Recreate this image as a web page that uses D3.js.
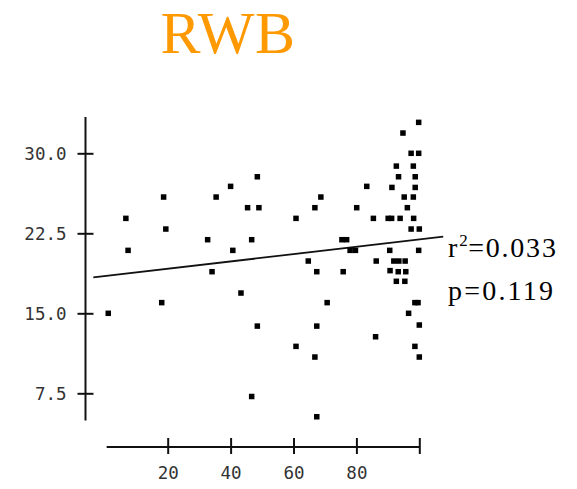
<!DOCTYPE html>
<html>
<head>
<meta charset="utf-8">
<script src="https://cdn.jsdelivr.net/npm/d3@7"></script>
<style>
  html, body { margin: 0; padding: 0; background: #fff; }
  svg { display: block; }
</style>
</head>
<body>
<svg id="chart" width="577" height="489"></svg>
<script>
// Sample measurements: x and y for each plotted site
const xValues = [
  1.1, 6.7, 7.4, 18.1, 18.7, 19.4, 32.7, 34.1, 35.4, 40.0,
  40.7, 43.3, 45.4, 46.7, 46.7, 48.5, 49.0, 48.5, 60.8, 60.8,
  64.7, 66.8, 66.8, 67.4, 67.4, 67.4, 68.7, 70.7, 75.4, 76.9,
  75.8, 78.0, 79.7, 80.1, 83.3, 85.4, 86.3, 86.1, 90.1, 91.2,
  91.3, 90.6, 90.7, 91.9, 93.5, 95.5, 92.7, 93.4, 93.3, 95.7,
  92.7, 95.4, 93.9, 94.8, 95.2, 96.2, 96.6, 97.4, 97.4, 98.1,
  98.7, 98.7, 98.1, 98.2, 98.6, 99.6, 98.6, 99.8, 99.8, 100.0,
  99.8, 100.0, 100.0
];
const yValues = [
  15.0, 23.9, 20.9, 16.0, 25.9, 22.9, 21.9, 18.9, 25.9, 26.9,
  20.9, 16.9, 24.9, 21.9, 7.2, 27.8, 24.9, 13.8, 23.9, 11.9,
  19.9, 24.9, 10.9, 18.9, 13.8, 5.3, 25.9, 16.0, 21.9, 21.9,
  18.9, 20.9, 20.9, 24.9, 26.9, 23.9, 19.9, 12.8, 23.9, 23.9,
  26.8, 20.9, 19.0, 19.9, 19.9, 19.9, 28.8, 27.8, 18.9, 18.9,
  18.0, 18.0, 23.9, 31.9, 25.9, 24.9, 15.0, 30.0, 22.9, 28.8,
  27.8, 26.8, 25.9, 23.9, 16.0, 16.0, 11.9, 32.9, 30.0, 22.9,
  20.9, 13.9, 10.9
];

// Axis ticks
const xTicks = [20, 40, 60, 80, 100];
const xTickLabels = ["20", "40", "60", "80", ""];
const yTicks = [7.5, 15.0, 22.5, 30.0];

// Fitted regression line (intercept, slope) and its extent in x
const fitIntercept = 18.49;
const fitSlope = 0.0343;
const fitRange = [-3.66, 107.6];

// Statistics text
const titleText = "RWB";
const r2Value = "0.033";
const pValue = "0.119";

const svg = d3.select("#chart");

const x = d3.scaleLinear().domain([0, 100]).range([104.8, 419.3]);
const y = d3.scaleLinear().domain([7.5, 30]).range([393.3, 153.3]);

const yAxisX = 85.5;
const xAxisY = 447;

// Title
svg.append("text")
  .attr("x", 228)
  .attr("y", 53)
  .attr("text-anchor", "middle")
  .attr("font-family", "'Liberation Serif', 'Times New Roman', serif")
  .attr("font-size", 60)
  .attr("letter-spacing", 0.5)
  .attr("fill", "#ff9900")
  .text(titleText);

// Y axis
const yAxis = svg.append("g")
  .attr("transform", `translate(${yAxisX},0)`)
  .call(d3.axisLeft(y).tickValues(yTicks).tickFormat(d3.format(".1f")).tickSizeOuter(0));
yAxis.select(".domain").remove();
yAxis.append("line")
  .attr("x1", 0).attr("x2", 0)
  .attr("y1", y(33.4)).attr("y2", y(4.95))
  .attr("stroke", "#111").attr("stroke-width", 2);
yAxis.selectAll(".tick line")
  .attr("x1", -8).attr("x2", 8)
  .attr("stroke", "#111").attr("stroke-width", 2);
yAxis.selectAll(".tick text")
  .attr("x", -19)
  .attr("dy", "0.35em")
  .attr("fill", "#333")
  .attr("font-family", "'DejaVu Sans Mono', monospace")
  .attr("font-size", 17.5);

// X axis
const xAxis = svg.append("g")
  .attr("transform", `translate(0,${xAxisY})`)
  .call(d3.axisBottom(x).tickValues(xTicks)
    .tickFormat((d, i) => xTickLabels[i]).tickSizeOuter(0));
xAxis.select(".domain").remove();
xAxis.append("line")
  .attr("x1", x(0.6)).attr("x2", x(100))
  .attr("y1", 0).attr("y2", 0)
  .attr("stroke", "#111").attr("stroke-width", 2);
xAxis.selectAll(".tick line")
  .attr("y1", -9).attr("y2", 7)
  .attr("stroke", "#111").attr("stroke-width", 2);
xAxis.selectAll(".tick text")
  .attr("y", 20)
  .attr("dy", "0.71em")
  .attr("fill", "#333")
  .attr("font-family", "'DejaVu Sans Mono', monospace")
  .attr("font-size", 17.5);

// Regression line
svg.append("line")
  .attr("x1", x(fitRange[0]))
  .attr("y1", y(fitIntercept + fitSlope * fitRange[0]))
  .attr("x2", x(fitRange[1]))
  .attr("y2", y(fitIntercept + fitSlope * fitRange[1]))
  .attr("stroke", "#111")
  .attr("stroke-width", 1.8);

// Points as small black squares
const pts = xValues.map((v, i) => ({ x: v, y: yValues[i] }));
const size = 5.5;
svg.append("g")
  .selectAll("rect")
  .data(pts)
  .join("rect")
  .attr("x", d => x(d.x) - size / 2)
  .attr("y", d => y(d.y) - size / 2)
  .attr("width", size)
  .attr("height", size)
  .attr("fill", "#000");

// Statistics annotation
const stats = svg.append("g")
  .attr("font-family", "'Liberation Serif', 'Times New Roman', serif")
  .attr("fill", "#000");
const r2 = stats.append("text")
  .attr("x", 448)
  .attr("y", 257)
  .attr("font-size", 28)
  .attr("letter-spacing", 1.8);
r2.append("tspan").text("r");
r2.append("tspan").attr("dy", -11).attr("font-size", 17).attr("letter-spacing", 0.5).text("2");
r2.append("tspan").attr("dy", 11).text("=" + r2Value);
stats.append("text")
  .attr("x", 448)
  .attr("y", 300)
  .attr("font-size", 28)
  .attr("letter-spacing", 2.2)
  .text("p=" + pValue);
</script>
</body>
</html>
